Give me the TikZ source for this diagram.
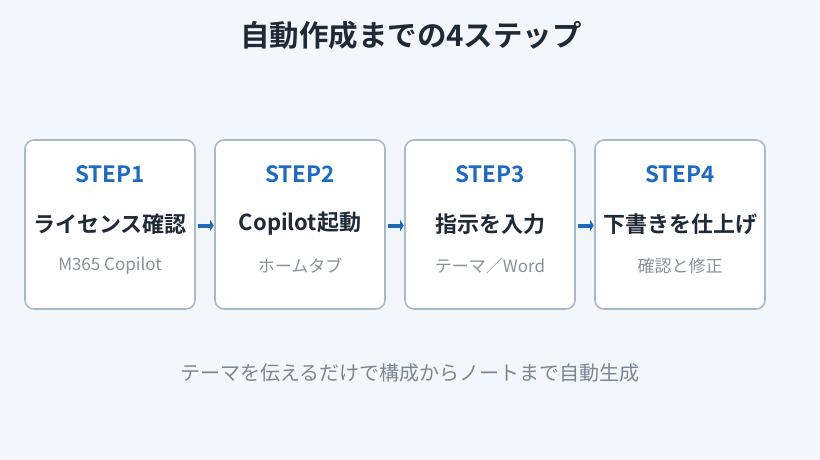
\documentclass[tikz,border=0pt]{standalone}
\usepackage{fontspec}
\setmainfont{Noto Sans CJK JP}[BoldFont={* Bold}]
\usetikzlibrary{arrows.meta}
\definecolor{bg}{HTML}{F3F6FA}
\definecolor{bordc}{HTML}{A9B9CC}
\definecolor{stepblue}{HTML}{1E6BC0}
\definecolor{darktxt}{HTML}{1F2A37}
\definecolor{subtxt}{HTML}{8A9099}
\definecolor{foottxt}{HTML}{7A8794}
\definecolor{arrowc}{HTML}{1F68B8}
\tikzset{
  stepbox/.style={draw=bordc, line width=1.6pt, fill=white, rounded corners=9pt, minimum width=170pt, minimum height=169pt, inner sep=0pt},
  steplabel/.style={text=stepblue, font=\fontsize{22.5}{26}\selectfont\bfseries},
  mainlabel/.style={text=darktxt, font=\fontsize{22}{26}\selectfont\bfseries},
  sublabel/.style={text=subtxt, font=\fontsize{17}{20}\selectfont},
  flowarrow/.style={draw=arrowc, line width=4pt, -{Triangle[length=3.5pt,width=11pt]}, shorten <=2pt, shorten >=0.5pt}
}
\begin{document}
\begin{tikzpicture}[x=1pt,y=-1pt]
\fill[bg] (0,0) rectangle (820,460);
\useasboundingbox (0,0) rectangle (820,460);
\node[text=darktxt, font=\fontsize{29.5}{34}\selectfont\bfseries] (title) at (411,35) {自動作成までの4ステップ};
\foreach \i/\s/\m/\t in {1/STEP1/ライセンス確認/M365 Copilot, 2/STEP2/Copilot起動/ホームタブ, 3/STEP3/指示を入力/テーマ／Word, 4/STEP4/下書きを仕上げ/確認と修正}{
  \node[stepbox] (b\i) at ({110+190*(\i-1)},224.5) {};
  \node[steplabel] (s\i) at ({110+190*(\i-1)},174) {\s};
  \node[mainlabel] (m\i) at ({110+190*(\i-1)},224) {\m};
  \node[sublabel] (t\i) at ({110+190*(\i-1)},266) {\t};
}
\draw[flowarrow] (b1.east |- 0,225.5) -- (b2.west |- 0,225.5);
\draw[flowarrow] (b2.east |- 0,225.5) -- (b3.west |- 0,225.5);
\draw[flowarrow] (b3.east |- 0,225.5) -- (b4.west |- 0,225.5);
\node[text=foottxt, font=\fontsize{20}{24}\selectfont] (foot) at (410,373) {テーマを伝えるだけで構成からノートまで自動生成};
\end{tikzpicture}
\end{document}
